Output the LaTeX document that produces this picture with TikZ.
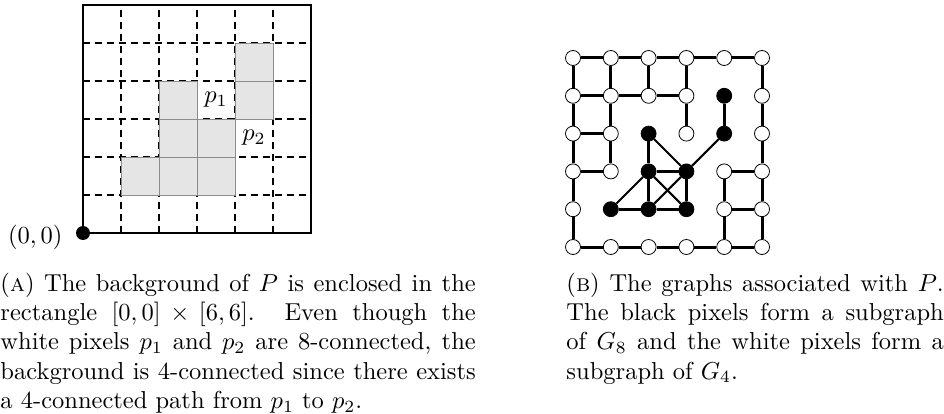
\documentclass[tikz,border=0pt]{standalone}
\begin{document}
\begin{tikzpicture}[x=1pt,y=-1pt,
  txt/.style={inner sep=0pt, scale=2.45, transform shape},
  cellgray/.style={draw=black!45, fill=black!10, line width=0.9pt},
  gridline/.style={dash pattern=on 7pt off 5pt, line width=1.1pt},
  wnode/.style={circle, draw=black, fill=white, line width=0.8pt, minimum size=15pt, inner sep=0pt},
  bnode/.style={circle, draw=black, fill=black, line width=0.8pt, minimum size=15pt, inner sep=0pt},
  wedge/.style={line width=3pt},
  bedge/.style={line width=2.8pt},
  dedge/.style={line width=2.1pt}]
\useasboundingbox (0,0) rectangle (944,414);

% ---------- left panel ----------
\begin{scope}[shift={(83,233)}]
\begin{scope}[x=38pt,y=38pt]
  \foreach \i in {1,...,5} {
    \draw[gridline] (\i,0) -- (\i,6);
    \draw[gridline] (0,\i) -- (6,\i);
  }
  \foreach \c/\r in {1/1,2/1,3/1,2/2,3/2,2/3,4/3,4/4}
    \draw[cellgray] (\c,\r) rectangle ++(1,1);
  \draw[line width=2.6pt] (0,0) rectangle (6,6);
  \node[txt] (p1) at (3.5,3.5) {$p_1$};
  \node[txt] (p2) at (4.5,2.5) {$p_2$};
  \fill (0,0) circle (7pt);
  \coordinate (orig) at (0,0);
\end{scope}
\end{scope}
\node[txt, anchor=base east] (origlbl) at (63,243) {$(0,0)$};

% ---------- right panel ----------
\begin{scope}[shift={(573,58)}]
\begin{scope}[x=37.8pt,y=-37.8pt]
  % white nodes
  \foreach \c/\r in {0/0,1/0,2/0,3/0,4/0,5/0,
                     0/1,1/1,2/1,3/1,5/1,
                     0/2,1/2,3/2,5/2,
                     0/3,1/3,4/3,5/3,
                     0/4,4/4,5/4,
                     0/5,1/5,2/5,3/5,4/5,5/5}
    \node[wnode] (n\c\r) at (\c,\r) {};
  % black nodes
  \foreach \c/\r in {4/1,4/2,2/2,2/3,3/3,1/4,2/4,3/4}
    \node[bnode] (n\c\r) at (\c,\r) {};
  % white edges, horizontal
  \foreach \a/\b in {00/10,10/20,20/30,30/40,40/50,
                     01/11,11/21,21/31,
                     02/12,
                     03/13,43/53,
                     44/54,
                     05/15,15/25,25/35,35/45,45/55}
    \draw[wedge] (n\a) -- (n\b);
  % white edges, vertical
  \foreach \a/\b in {00/01,01/02,02/03,03/04,04/05,
                     10/11,11/12,12/13,
                     20/21,
                     30/31,31/32,
                     43/44,44/45,
                     50/51,51/52,52/53,53/54,54/55}
    \draw[wedge] (n\a) -- (n\b);
  % black edges, orthogonal
  \foreach \a/\b in {41/42,22/23,23/24,33/34,23/33,14/24,24/34}
    \draw[bedge] (n\a) -- (n\b);
  % black edges, diagonal
  \foreach \a/\b in {22/33,23/14,23/34,33/24,33/42}
    \draw[dedge] (n\a) -- (n\b);
\end{scope}
\end{scope}

% ---------- captions ----------
\node[txt, anchor=base west] (capa) at (0,291) {\parbox[t]{194pt}{\hyphenpenalty=10000
(\textsc{a}) The background of $P$ is enclosed in the\linebreak
rectangle $[0,0]\times[6,6]$. Even though the\linebreak
white pixels $p_1$ and $p_2$ are 8-connected, the\linebreak
background is 4-connected since there exists\linebreak
a 4-connected path from $p_1$ to $p_2$.}};
\node[txt, anchor=base west] (capb) at (566,291) {\parbox[t]{154pt}{\hyphenpenalty=10000
(\textsc{b}) The graphs associated with $P$.\linebreak
The black pixels form a subgraph\linebreak
of $G_8$ and the white pixels form a\linebreak
subgraph of $G_4$.}};
\end{tikzpicture}
\end{document}
